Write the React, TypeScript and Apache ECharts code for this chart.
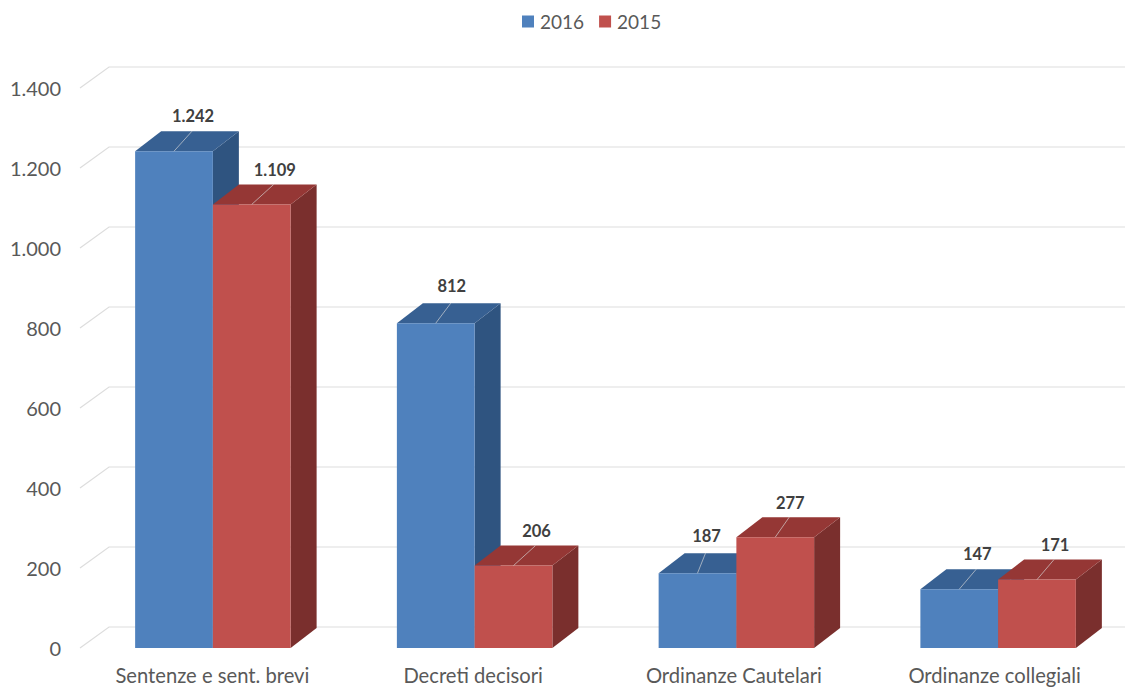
import React, { useEffect, useRef } from "react";
import * as echarts from "echarts";

// Document types by year
const categories = ["Sentenze e sent. brevi", "Decreti decisori", "Ordinanze Cautelari", "Ordinanze collegiali"];
const values2016 = [1242, 812, 187, 147];
const values2015 = [1109, 206, 277, 171];
const yTicks = [0, 200, 400, 600, 800, 1000, 1200, 1400];

// Per-label horizontal and vertical nudges, in px, so callouts clear the bar tops
const labelNudge2016 = [[19, -35], [16, -37], [9, -37], [18, -35]];
const labelNudge2015 = [[23, -34], [23, -35], [15, -34], [18, -35]];

// Oblique projection of the chart's depth
const DEPTH_X = 26;
const DEPTH_Y = -20;
const WALL_DEPTH_Y = -21;
const BAR_FRACTION = 0.297;
const FONT = "Lato, 'Open Sans', sans-serif";

const formatThousands = (v: number) => String(v).replace(/\B(?=(\d{3})+(?!\d))/g, ".");

type Shades = { front: string; top: string; side: string };

const makeBarRenderer = (shades: Shades, side: -1 | 0, nudges: number[][]) => (params: any, api: any) => {
  const idx = api.value(0);
  const val = api.value(1);
  const [cx, top] = api.coord([idx, val]);
  const [, base] = api.coord([idx, 0]);
  const w = api.size([1, 0])[0] * BAR_FRACTION;
  const x0 = cx + side * w;
  const x1 = x0 + w;
  const dx = DEPTH_X;
  const dy = DEPTH_Y;
  const mid = (x0 + x1) / 2;
  const [nx, ny] = nudges[idx];
  return {
    type: "group",
    children: [
      {
        type: "polygon",
        silent: true,
        shape: { points: [[x1, top], [x1 + dx, top + dy], [x1 + dx, base + dy], [x1, base]] },
        style: { fill: shades.side },
      },
      {
        type: "polygon",
        silent: true,
        shape: { points: [[x0, top], [x0 + dx, top + dy], [x1 + dx, top + dy], [x1, top]] },
        style: { fill: shades.top },
      },
      {
        type: "rect",
        silent: true,
        shape: { x: x0, y: top, width: w, height: base - top },
        style: { fill: shades.front },
      },
      {
        type: "line",
        silent: true,
        shape: { x1: mid, y1: top, x2: mid + nx - 1, y2: top + dy },
        style: { stroke: "rgba(217,217,217,0.65)", lineWidth: 1 },
      },
      {
        type: "text",
        silent: true,
        x: mid + nx,
        y: top + ny,
        style: {
          text: formatThousands(val),
          font: `bold 16.5px ${FONT}`,
          fill: "#404040",
          align: "center",
          verticalAlign: "middle",
        },
      },
    ],
  };
};

// Back wall rule with its short diagonal running forward to the value axis
const renderGridLine = (params: any, api: any) => {
  const [, y] = api.coord([0, api.value(1)]);
  const left = params.coordSys.x;
  const right = left + params.coordSys.width;
  return {
    type: "polyline",
    silent: true,
    shape: { points: [[left - 2, y], [left + DEPTH_X + 1, y + WALL_DEPTH_Y], [right, y + WALL_DEPTH_Y]] },
    style: { stroke: "#DDDDDD", lineWidth: 1.2, fill: "none" },
  };
};

const BLUE: Shades = { front: "#4F81BD", top: "#376092", side: "#2F5480" };
const RED: Shades = { front: "#C0504D", top: "#953735", side: "#7A2F2D" };

export default function App() {
  const ref = useRef<HTMLDivElement>(null);

  useEffect(() => {
    document.body.style.margin = "0";
    const chart = echarts.init(ref.current!, null, { renderer: "svg" });
    chart.setOption({
      animation: false,
      backgroundColor: "#FFFFFF",
      legend: {
        data: ["2016", "2015"],
        left: 517,
        top: 7,
        itemWidth: 12,
        itemHeight: 12,
        itemGap: 15,
        icon: "rect",
        textStyle: { fontFamily: FONT, fontSize: 19, color: "#595959", padding: [0, 0, 0, 1] },
      },
      // The first grid carries the marks, the second the category labels
      grid: [
        { left: 82, width: 1047, top: 88, bottom: 39, outerBoundsMode: "none" },
        { left: 82, width: 1043, top: 88, bottom: 39, outerBoundsMode: "none" },
      ],
      xAxis: [
        { type: "category", gridIndex: 0, data: categories, show: false },
        {
          type: "category",
          gridIndex: 1,
          data: categories,
          axisLine: { show: false },
          axisTick: { show: false },
          axisLabel: { fontFamily: FONT, fontSize: 20.2, color: "#595959", margin: 17 },
        },
      ],
      yAxis: [
        {
          type: "value",
          gridIndex: 0,
          min: 0,
          max: 1400,
          interval: 200,
          splitLine: { show: false },
          axisLine: { show: false },
          axisTick: { show: false },
          axisLabel: {
            fontFamily: FONT,
            fontSize: 20,
            color: "#595959",
            margin: 21,
            verticalAlign: "middle",
            padding: [6, 0, 0, 0],
            formatter: (v: number) => formatThousands(v),
          },
        },
        { type: "value", gridIndex: 1, min: 0, max: 1400, interval: 200, show: false },
      ],
      series: [
        {
          name: "walls",
          type: "custom",
          z: 1,
          silent: true,
          renderItem: renderGridLine,
          data: yTicks.map((t) => [0, t]),
          encode: { x: 0, y: 1 },
        },
        {
          name: "2016",
          type: "custom",
          z: 2,
          itemStyle: { color: BLUE.front },
          renderItem: makeBarRenderer(BLUE, -1, labelNudge2016),
          data: values2016.map((v, i) => [i, v]),
          encode: { x: 0, y: 1 },
        },
        {
          name: "2015",
          type: "custom",
          z: 3,
          itemStyle: { color: RED.front },
          renderItem: makeBarRenderer(RED, 0, labelNudge2015),
          data: values2015.map((v, i) => [i, v]),
          encode: { x: 0, y: 1 },
        },
      ],
    });
    return () => chart.dispose();
  }, []);

  return <div ref={ref} style={{ width: 1125, height: 687 }} />;
}
